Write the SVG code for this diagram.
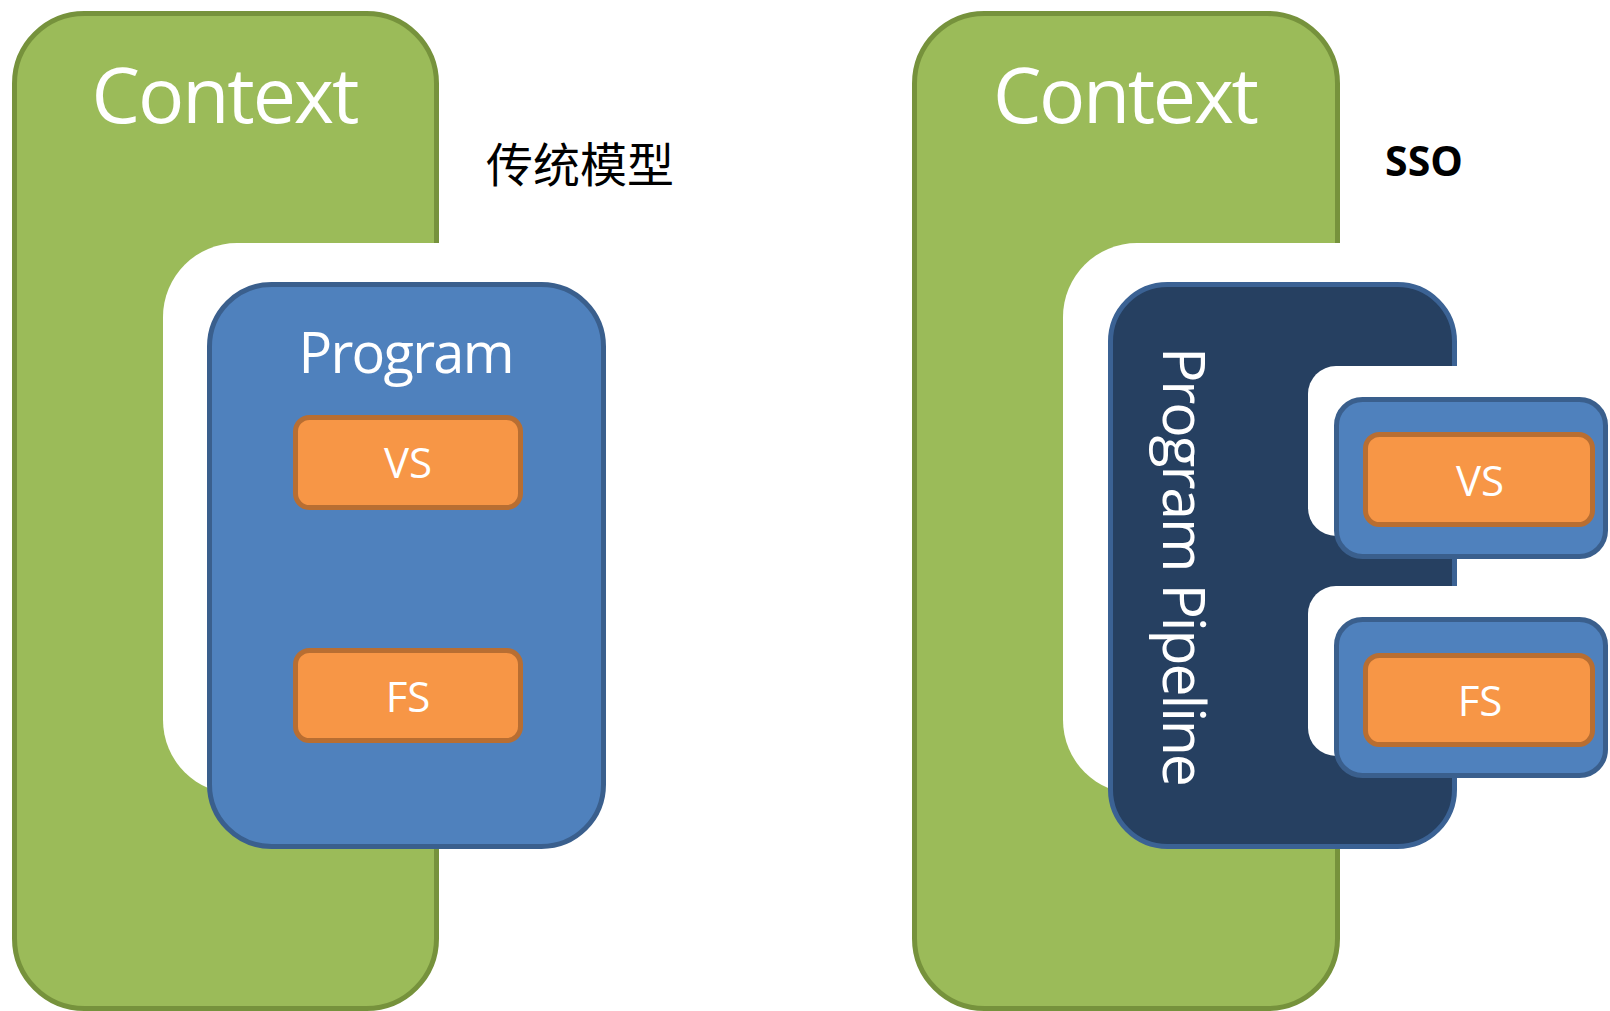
<svg xmlns="http://www.w3.org/2000/svg" width="1610" height="1011" viewBox="0 0 1610 1011">
  <style>
    .ctx { fill: #9bbb59; stroke: #76923c; stroke-width: 5; }
    .gap { fill: #ffffff; }
    .prog { fill: #4f81bd; stroke: #3a5f8d; stroke-width: 5; }
    .pipe { fill: #264061; stroke: #3b6294; stroke-width: 5; }
    .stage { fill: #f79646; stroke: #b86e32; stroke-width: 5; }
    .lbl { fill: #ffffff; font-family: "Open Sans", "Noto Sans", "DejaVu Sans", sans-serif; text-anchor: middle; }
    .title { fill: #000000; }
  </style>

  <!-- Left: classic program model -->
  <g id="context-classic">
    <rect class="ctx" x="14.5" y="13.5" width="422" height="995" rx="70"/>
    <text class="lbl" x="225.5" y="123" font-size="77" textLength="268">Context</text>
  </g>
  <!-- white halo around the program object -->
  <rect class="gap" x="163" y="243" width="420" height="551" rx="74"/>
  <g id="program">
    <rect class="prog" x="209.5" y="284.5" width="394" height="562" rx="62"/>
    <text class="lbl" x="406.5" y="373" font-size="56" textLength="216">Program</text>
  </g>
  <g id="vs-classic">
    <rect class="stage" x="295.5" y="417.5" width="225" height="90" rx="14"/>
    <text class="lbl" x="408" y="478" font-size="42">VS</text>
  </g>
  <g id="fs-classic">
    <rect class="stage" x="295.5" y="650.5" width="225" height="90" rx="14"/>
    <text class="lbl" x="408" y="712" font-size="42">FS</text>
  </g>
  <g id="title-classic">
    <text class="title" x="580" y="182" font-size="47" text-anchor="middle" font-family="'Noto Sans CJK SC', 'Noto Sans CJK TC', sans-serif">传统模型</text>
  </g>

  <!-- Right: separate shader objects -->
  <g id="context-sso">
    <rect class="ctx" x="914.5" y="13.5" width="423" height="995" rx="70"/>
    <text class="lbl" x="1126" y="123" font-size="77" textLength="266">Context</text>
  </g>
  <rect class="gap" x="1063" y="243" width="380" height="551" rx="74"/>
  <g id="program-pipeline">
    <rect class="pipe" x="1110.5" y="284.5" width="344" height="562" rx="57"/>
    <text class="lbl" transform="translate(1163,567) rotate(90)" x="0" y="0" font-size="59" textLength="440">Program Pipeline</text>
  </g>
  <!-- white halos around the attached shader programs -->
  <rect class="gap" x="1308" y="366" width="250" height="170" rx="28"/>
  <rect class="gap" x="1308" y="586" width="250" height="170" rx="28"/>
  <g id="vs-program">
    <rect class="prog" x="1336.5" y="399.5" width="269" height="157" rx="26"/>
    <rect class="stage" x="1365.5" y="434.5" width="227" height="90" rx="14"/>
    <text class="lbl" x="1480" y="496" font-size="42">VS</text>
  </g>
  <g id="fs-program">
    <rect class="prog" x="1336.5" y="619.5" width="269" height="156" rx="26"/>
    <rect class="stage" x="1365.5" y="655.5" width="227" height="89" rx="14"/>
    <text class="lbl" x="1480" y="716" font-size="42">FS</text>
  </g>
  <g id="title-sso">
    <text class="title" x="1424" y="176" font-size="41" font-weight="bold" text-anchor="middle" font-family="'Open Sans', 'Noto Sans', sans-serif">SSO</text>
  </g>
</svg>
